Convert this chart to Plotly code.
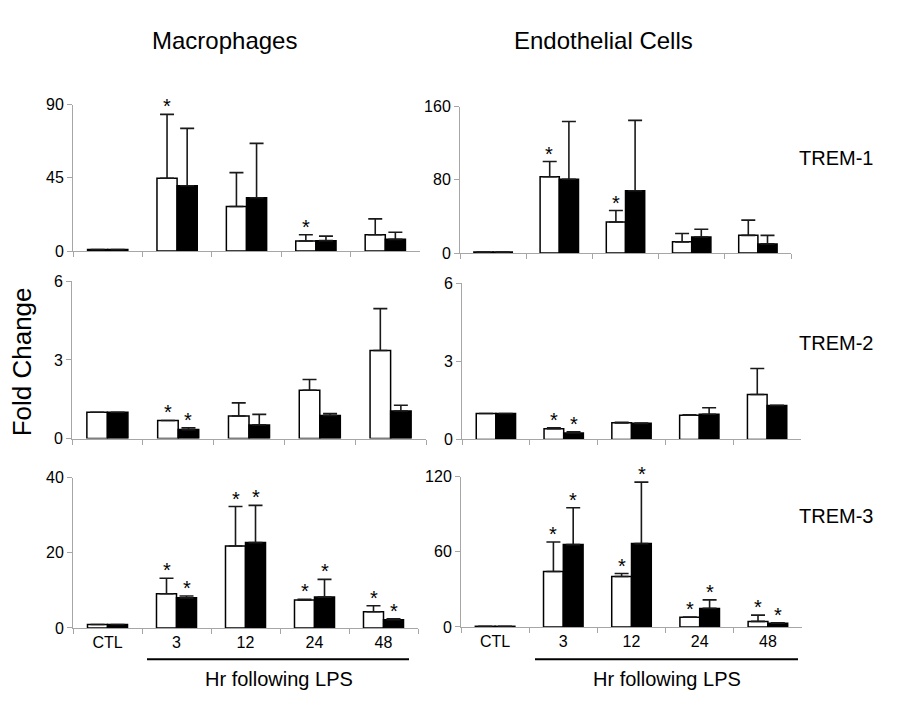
import plotly.graph_objects as go

categories = ["CTL", "3", "12", "24", "48"]

# Macrophages
mac_t1_white = [1.0, 44.8, 27.4, 6.2, 10.0]
mac_t1_white_err = [0.0, 39.2, 20.8, 3.8, 9.8]
mac_t1_black = [1.0, 40.2, 32.8, 6.4, 7.2]
mac_t1_black_err = [0.0, 35.2, 33.4, 2.8, 4.4]

mac_t2_white = [1.0, 0.69, 0.86, 1.84, 3.36]
mac_t2_white_err = [0.0, 0.0, 0.50, 0.41, 1.60]
mac_t2_black = [1.0, 0.34, 0.52, 0.88, 1.05]
mac_t2_black_err = [0.0, 0.07, 0.40, 0.07, 0.22]

mac_t3_white = [0.9, 9.1, 21.8, 7.4, 4.3]
mac_t3_white_err = [0.0, 4.1, 10.5, 0.2, 1.6]
mac_t3_black = [0.9, 8.0, 22.7, 8.2, 2.2]
mac_t3_black_err = [0.0, 0.5, 9.9, 4.7, 0.2]

# Endothelial cells
end_t1_white = [1.0, 83.4, 33.9, 12.2, 19.3]
end_t1_white_err = [0.0, 16.6, 12.5, 9.2, 16.7]
end_t1_black = [1.0, 80.6, 68.0, 17.5, 10.0]
end_t1_black_err = [0.0, 63.1, 77.0, 8.5, 9.3]

end_t2_white = [1.0, 0.41, 0.64, 0.93, 1.73]
end_t2_white_err = [0.0, 0.04, 0.02, 0.02, 1.00]
end_t2_black = [1.0, 0.25, 0.62, 0.97, 1.31]
end_t2_black_err = [0.0, 0.05, 0.01, 0.25, 0.0]

end_t3_white = [0.5, 44.2, 40.3, 7.8, 4.4]
end_t3_white_err = [0.0, 23.6, 2.3, 0.0, 5.0]
end_t3_black = [0.5, 65.7, 66.5, 14.8, 2.9]
end_t3_black_err = [0.0, 29.4, 49.1, 6.8, 0.3]

# significance flags (white, black) per category
mac_t1_sig = ([0, 1, 0, 1, 0], [0, 0, 0, 0, 0])
mac_t2_sig = ([0, 1, 0, 0, 0], [0, 1, 0, 0, 0])
mac_t3_sig = ([0, 1, 1, 1, 1], [0, 1, 1, 1, 1])
end_t1_sig = ([0, 1, 1, 0, 0], [0, 0, 0, 0, 0])
end_t2_sig = ([0, 1, 0, 0, 0], [0, 1, 0, 0, 0])
end_t3_sig = ([0, 1, 1, 1, 1], [0, 1, 1, 1, 1])

y_max = [90, 160, 6, 6, 40, 120]
y_ticks = [[0, 45, 90], [0, 80, 160], [0, 3, 6], [0, 3, 6], [0, 20, 40], [0, 60, 120]]

row_labels = ["TREM-1", "TREM-2", "TREM-3"]
col_titles = ["Macrophages", "Endothelial Cells"]

W, H = 906, 715
# pixel geometry of panels: (x0, x1, ytop, ybottom)
panels_px = [
    (73, 420, 99, 249), (460, 791, 101, 251),
    (72, 426, 280, 441), (462, 801, 282, 442),
    (73, 418, 481, 635), (461, 802, 480, 634),
]

panel_data = [
    (mac_t1_white, mac_t1_white_err, mac_t1_black, mac_t1_black_err, mac_t1_sig),
    (end_t1_white, end_t1_white_err, end_t1_black, end_t1_black_err, end_t1_sig),
    (mac_t2_white, mac_t2_white_err, mac_t2_black, mac_t2_black_err, mac_t2_sig),
    (end_t2_white, end_t2_white_err, end_t2_black, end_t2_black_err, end_t2_sig),
    (mac_t3_white, mac_t3_white_err, mac_t3_black, mac_t3_black_err, mac_t3_sig),
    (end_t3_white, end_t3_white_err, end_t3_black, end_t3_black_err, end_t3_sig),
]

FONT = "Liberation Sans, Arial, sans-serif"
AXIS_GRAY = "#a6a6a6"

fig = go.Figure()
layout = dict(
    width=W, height=H,
    margin=dict(l=0, r=0, t=0, b=0),
    paper_bgcolor="white", plot_bgcolor="white",
    showlegend=False, barmode="group", bargap=0.42, bargroupgap=0.0,
    font=dict(family=FONT, color="black"),
)
annotations = []
shapes = []

for i, (px, dat) in enumerate(zip(panels_px, panel_data)):
    n = i + 1
    xa = "x" if n == 1 else f"x{n}"
    ya = "y" if n == 1 else f"y{n}"
    wv, we, bv, be, sig = dat
    for vals, errs, fill in ((wv, we, "white"), (bv, be, "black")):
        fig.add_trace(go.Bar(
            x=categories, y=vals, xaxis=xa, yaxis=ya,
            marker=dict(color=fill, line=dict(color="black", width=1.5)),
            error_y=dict(type="data", array=errs, symmetric=False,
                         arrayminus=[0] * len(errs),
                         color="#1a1a1a", thickness=1.6, width=7),
        ))
    x0, x1, yt, yb = px
    is_bottom = i >= 4
    layout[f"xaxis{'' if n == 1 else n}"] = dict(
        domain=[x0 / W, x1 / W], anchor=ya, type="category",
        categoryorder="array", categoryarray=categories,
        range=[-0.5, len(categories) - 0.5], autorange=False,
        showline=True, linecolor=AXIS_GRAY, linewidth=1,
        ticks="outside", ticklen=5, tickcolor=AXIS_GRAY, tickwidth=1,
        tickson="boundaries", showgrid=False, zeroline=False,
        showticklabels=is_bottom,
        tickfont=dict(size=16, family=FONT, color="black"),
        fixedrange=True,
    )
    layout[f"yaxis{'' if n == 1 else n}"] = dict(
        domain=[1 - yb / H, 1 - yt / H], anchor=xa,
        range=[0, y_max[i]], autorange=False, tickvals=y_ticks[i],
        showline=True, linecolor=AXIS_GRAY, linewidth=1,
        ticks="outside", ticklen=5, tickcolor=AXIS_GRAY, tickwidth=1,
        showgrid=False, zeroline=False,
        tickfont=dict(size=16, family=FONT, color="black"),
        fixedrange=True,
    )
    # significance asterisks
    for j in range(len(categories)):
        for k, (vals, errs) in enumerate(((wv, we), (bv, be))):
            if sig[k][j]:
                annotations.append(dict(
                    x=j, y=vals[j] + errs[j], xref=xa, yref=ya,
                    text="*", showarrow=False, xshift=(-10 if k == 0 else 10),
                    yanchor="middle", yshift=8,
                    font=dict(size=20, family=FONT, color="black"),
                ))

# column titles
for cx, t in zip([224.5, 603.5], col_titles):
    annotations.append(dict(x=cx / W, y=1 - 33 / H, xref="paper", yref="paper",
                            text=t, showarrow=False, xanchor="center", yanchor="middle",
                            font=dict(size=24, family=FONT, color="black")))
# row labels
for cy, t in zip([154, 343, 520], row_labels):
    annotations.append(dict(x=835.5 / W, y=1 - cy / H, xref="paper", yref="paper",
                            text=t, showarrow=False, xanchor="center", yanchor="middle",
                            font=dict(size=20, family=FONT, color="black")))
# y title
annotations.append(dict(x=22 / W, y=1 - 363 / H, xref="paper", yref="paper",
                        text="Fold Change", textangle=-90, showarrow=False,
                        xanchor="center", yanchor="middle",
                        font=dict(size=26, family=FONT, color="black")))
# x titles with underline bars
for (lx0, lx1, cx) in [(147, 409, 279), (535, 798, 667)]:
    shapes.append(dict(type="line", xref="paper", yref="paper",
                       x0=lx0 / W, x1=lx1 / W, y0=1 - 667 / H, y1=1 - 667 / H,
                       line=dict(color="black", width=2)))
    annotations.append(dict(x=cx / W, y=1 - 687 / H, xref="paper", yref="paper",
                            text="Hr following LPS", showarrow=False,
                            xanchor="center", yanchor="middle",
                            font=dict(size=20, family=FONT, color="black")))

layout["annotations"] = annotations
layout["shapes"] = shapes
fig.update_layout(**layout)
fig.write_html("out.html",
               config={"displayModeBar": False, "staticPlot": False},
               post_script="document.body.style.margin='0';document.body.style.padding='0';")
